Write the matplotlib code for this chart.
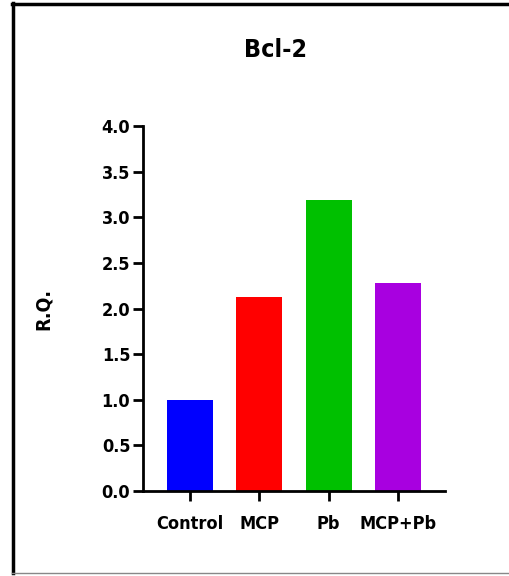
import matplotlib
matplotlib.use("Agg")
import matplotlib.pyplot as plt
from matplotlib.lines import Line2D

# data
groups = ["Control", "MCP", "Pb", "MCP+Pb"]
rq_values = [1.0, 2.13, 3.19, 2.28]
bar_colors = ["#0000FF", "#FF0000", "#00C000", "#A800E0"]
y_ticks = [0.0, 0.5, 1.0, 1.5, 2.0, 2.5, 3.0, 3.5, 4.0]

plt.rcParams["font.family"] = ["DejaVu Sans"]
plt.rcParams["font.stretch"] = "condensed"
plt.rcParams["font.weight"] = "bold"

fig = plt.figure(figsize=(5.1, 5.76), dpi=100)
ax = fig.add_axes([0.280, 0.1476, 0.593, 0.6334])

x = range(len(groups))
ax.bar(x, rq_values, width=0.66, color=bar_colors)

ax.set_xlim(-0.68, 3.68)
ax.set_ylim(0, 4.0)
ax.set_yticks(y_ticks)
ax.set_yticklabels([f"{v:.1f}" for v in y_ticks], fontsize=13, fontweight="bold")
ax.set_xticks(list(x))
ax.set_xticklabels(groups, fontsize=13, fontweight="bold")

for side in ["top", "right"]:
    ax.spines[side].set_visible(False)
for side in ["left", "bottom"]:
    ax.spines[side].set_linewidth(2)
ax.tick_params(axis="both", width=2, length=7, pad=2)
ax.tick_params(axis="x", pad=10)

ax.set_ylabel("R.Q.", fontsize=14, fontweight="bold", labelpad=35)
fig.text(0.541, 0.913, "Bcl-2", ha="center", va="center", fontsize=18, fontweight="bold")

# border around the panel
fig.add_artist(Line2D([0.024, 1.0], [0.993, 0.993], color="black", lw=2.5, transform=fig.transFigure))
fig.add_artist(Line2D([0.026, 0.026], [0.005, 0.995], color="black", lw=2.5, transform=fig.transFigure))
fig.add_artist(Line2D([0.024, 1.0], [0.005, 0.005], color="#888888", lw=1, transform=fig.transFigure))

fig.savefig("out.png", dpi=100)
